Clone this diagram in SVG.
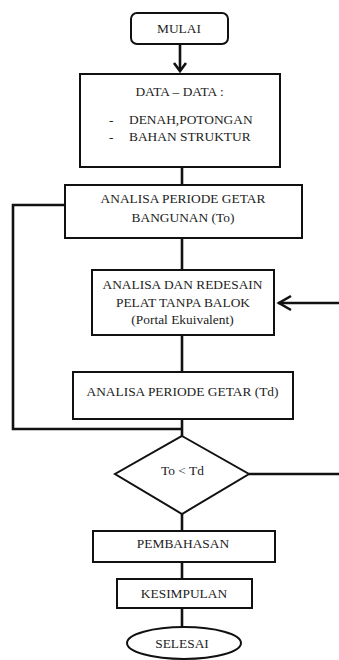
<svg xmlns="http://www.w3.org/2000/svg" width="339" height="660" viewBox="0 0 339 660" font-family="'Liberation Serif', 'DejaVu Serif', serif">
<style>
.box{fill:#fff;stroke:#111;stroke-width:2}
.ln{fill:none;stroke:#111;stroke-width:2.6;stroke-linejoin:miter}
.ah{fill:none;stroke:#111;stroke-width:2.6;stroke-linecap:butt}
text{font-family:'Liberation Serif','DejaVu Serif',serif;font-size:13.4px;fill:#222;text-anchor:middle}
.l{text-anchor:start}
</style>
<rect width="339" height="660" fill="#fff"/>
<g id="connectors">
<line class="ln" x1="180" y1="44" x2="180" y2="71"/>
<polyline class="ah" points="174,63 180,71 186,63"/>
<line class="ln" x1="182" y1="167" x2="182" y2="185"/>
<line class="ln" x1="182" y1="238" x2="182" y2="270"/>
<line class="ln" x1="182" y1="335" x2="182" y2="372"/>
<line class="ln" x1="182" y1="419" x2="182" y2="436"/>
<polyline class="ln" points="65,205 13,205 13,429 182,429"/>
<line class="ln" x1="339" y1="303" x2="278" y2="303"/>
<polyline class="ah" points="291,296 279,303 291,310"/>
<line class="ln" x1="249" y1="474" x2="339" y2="474"/>
<line class="ln" x1="182" y1="514" x2="182" y2="531"/>
<line class="ln" x1="182" y1="562" x2="182" y2="579"/>
<line class="ln" x1="182" y1="608" x2="182" y2="627"/>
</g>
<g id="mulai">
<rect class="box" x="131" y="13" width="97" height="31" rx="6"/>
<text x="179" y="32.5">MULAI</text>
</g>
<g id="data">
<rect class="box" x="80" y="74" width="200" height="93"/>
<text x="179.5" y="95.5">DATA – DATA :</text>
<text class="l" x="109" y="123.5">-</text>
<text class="l" x="129" y="123.5">DENAH,POTONGAN</text>
<text class="l" x="109" y="140.5">-</text>
<text class="l" x="129" y="140.5">BAHAN STRUKTUR</text>
</g>
<g id="to">
<rect class="box" x="65" y="185" width="237" height="53"/>
<text x="183" y="202.5">ANALISA PERIODE GETAR</text>
<text x="183" y="221.5">BANGUNAN (To)</text>
</g>
<g id="redesain">
<rect class="box" x="92" y="270" width="182" height="65"/>
<text x="182.5" y="288.5">ANALISA DAN REDESAIN</text>
<text x="183" y="306.5">PELAT TANPA BALOK</text>
<text x="182.5" y="324">(Portal Ekuivalent)</text>
</g>
<g id="td">
<rect class="box" x="73" y="372" width="220" height="47"/>
<text x="182.5" y="395.5">ANALISA PERIODE GETAR (Td)</text>
</g>
<g id="decision">
<polygon class="box" points="182,436 249,474 182,514 115,474"/>
<text x="182.5" y="474.5">To &lt; Td</text>
</g>
<g id="pembahasan">
<rect class="box" x="93" y="531" width="182" height="31"/>
<text x="183" y="547.5">PEMBAHASAN</text>
</g>
<g id="kesimpulan">
<rect class="box" x="117" y="579" width="135" height="29"/>
<text x="184" y="597.5">KESIMPULAN</text>
</g>
<g id="selesai">
<ellipse class="box" cx="184" cy="643" rx="57" ry="16"/>
<text x="182" y="647.5">SELESAI</text>
</g>
</svg>
